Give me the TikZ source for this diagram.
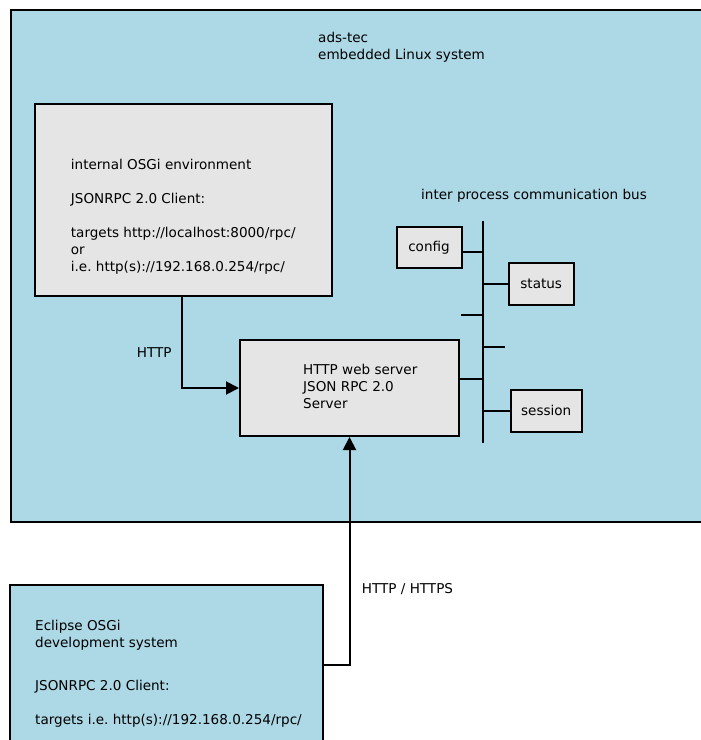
\documentclass[tikz,border=0pt]{standalone}
\usepackage{fontspec}
\setmainfont{DejaVu Sans}
\frenchspacing
\usetikzlibrary{arrows.meta}
\definecolor{sysblue}{HTML}{ADD8E6}
\definecolor{boxgray}{HTML}{E5E5E5}
\begin{document}
\begin{tikzpicture}[x=1pt,y=-1pt,
  font=\fontsize{13.55}{16.9}\selectfont,
  frame/.style={draw=black, line width=2pt, inner sep=0pt},
  gbox/.style={frame, fill=boxgray},
  % multi-line text blocks are placed by the baseline of their last line
  txt/.style={anchor=base west, inner sep=0pt, align=left},
  conn/.style={draw=black, line width=2pt},
  tip/.style={-{Triangle[length=13pt,width=13pt]}}]
\useasboundingbox (0,0) rectangle (701,740);
\clip (0,0) rectangle (701,740);

% embedded system frame
\node[frame, fill=sysblue, minimum width=704, minimum height=512] (sys) at (363,266) {};
\node[txt] (systitle) at (318,59) {ads-tec\\embedded Linux system};

% internal OSGi environment
\node[gbox, minimum width=297, minimum height=192] (osgi) at (183.5,200) {};
\node[txt] (osgitext) at (70.7,271) {internal OSGi environment\\\\JSONRPC 2.0 Client:\\\\targets http://localhost:8000/rpc/\\or\\i.e. http(s)://192.168.0.254/rpc/};

% web server
\node[gbox, minimum width=219, minimum height=96] (server) at (349.5,388) {};
\node[txt] (servertext) at (303,408) {HTTP web server\\JSON RPC 2.0\\Server};

% IPC bus members
\node[txt] (bustitle) at (421,199) {inter process communication bus};
\node[gbox, minimum width=65, minimum height=40.5] (config) at (429,247.3) {config};
\node[gbox, minimum width=65, minimum height=42] (status) at (541.2,284) {status};
\node[gbox, minimum width=71, minimum height=42] (session) at (546.2,410.5) {session};

\coordinate (bustop) at (483,220.5);
\coordinate (busbot) at (483,443);
\draw[conn, line width=2.3pt] (bustop) -- (busbot);

\path ([yshift=-5pt]config.east) coordinate (cfgport);
\path ([yshift=9pt]server.east) coordinate (srvport);
\coordinate (stubA) at (461,315.3);
\coordinate (stubB) at (504.7,347);
\draw[conn] (cfgport) -- (cfgport -| bustop);
\draw[conn] (status.west) -- (status.west -| bustop);
\draw[conn] (stubA) -- (stubA -| bustop);
\draw[conn] (stubB) -- (stubB -| bustop);
\draw[conn] (srvport) -- (srvport -| bustop);
\draw[conn] (session.west) -- (session.west -| bustop);

% internal HTTP link
\path ([xshift=-1.5pt]osgi.south) coordinate (osgiport);
\draw[conn, tip] (osgiport) |- (server.west);
\node[txt] (httplabel) at (136.7,357.3) {HTTP};

% development system
\node[frame, fill=sysblue, minimum width=313, minimum height=175] (dev) at (166.5,672.5) {};
\node[txt] (devtitle) at (35,647) {Eclipse OSGi\\development system};
\node[txt] (devtext) at (35,724) {JSONRPC 2.0 Client:\\\\targets i.e. http(s)://192.168.0.254/rpc/};
\coordinate (devport) at (323,665);
\draw[conn, tip] (devport) -| (server.south);
\node[txt] (httpslabel) at (361.7,593.3) {HTTP / HTTPS};
\end{tikzpicture}
\end{document}
